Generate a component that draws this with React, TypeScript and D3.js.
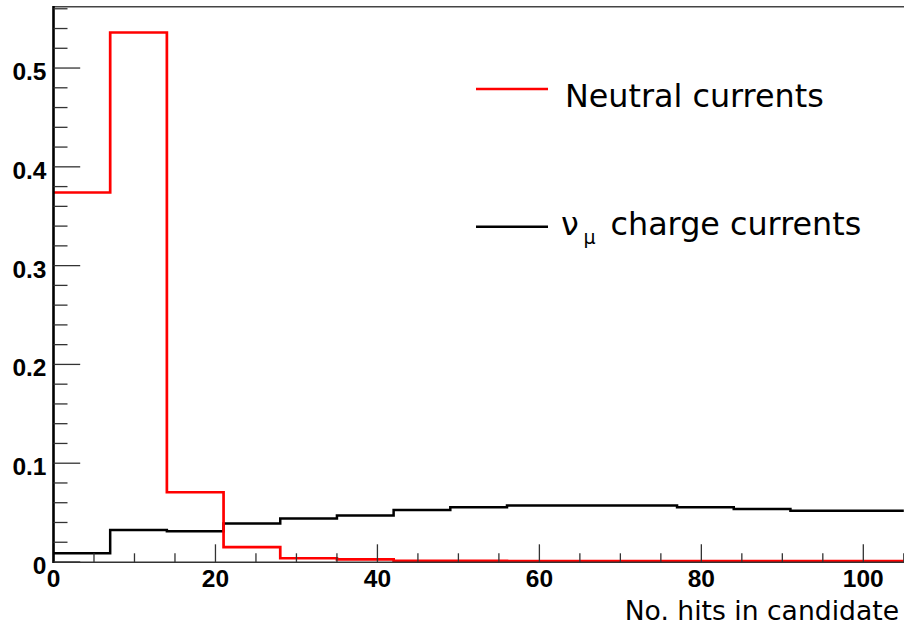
import React from "react";
import * as d3 from "d3";

const binEdges = [0, 7, 14, 21, 28, 35, 42, 49, 56, 63, 70, 77, 84, 91, 98, 105];
const neutralCurrents = [0.374, 0.536, 0.0706, 0.015, 0.0038, 0.0027, 0.0012, 0.0011, 0.001, 0.001, 0.001, 0.001, 0.001, 0.001, 0.001];
const chargeCurrents = [0.0088, 0.0325, 0.0312, 0.039, 0.044, 0.047, 0.0527, 0.0554, 0.0571, 0.0571, 0.0572, 0.0554, 0.0537, 0.052, 0.052];
const xMajorTicks = [0, 20, 40, 60, 80, 100];
const yMajorTicks = [0, 0.1, 0.2, 0.3, 0.4, 0.5];
const yTickLabels = ["0", "0.1", "0.2", "0.3", "0.4", "0.5"];
const xTickLabels = ["0", "20", "40", "60", "80", "100"];
const xTitle = "No. hits in candidate";

const W = 904;
const H = 626;

export default function App() {
  const x = d3.scaleLinear().domain([0, 105]).range([53.5, 903.8]);
  const y = d3.scaleLinear().domain([0, 0.5628]).range([562, 6]);

  const xMinor = d3.range(0, 106, 5).filter((v) => v % 20 !== 0);
  const yMinor = d3.range(0, 0.561, 0.02).filter((v) => Math.abs(v * 10 - Math.round(v * 10)) > 1e-6);

  const step = d3
    .line<[number, number]>()
    .x((d) => x(d[0]))
    .y((d) => y(d[1]))
    .curve(d3.curveStepAfter);

  const pts = (vals: number[]): [number, number][] => {
    const p: [number, number][] = vals.map((v, i) => [binEdges[i], v]);
    p.push([binEdges[vals.length], vals[vals.length - 1]]);
    return p;
  };

  const tickColor = "#333";
  const labelFont = "'Liberation Sans', Arial, Helvetica, sans-serif";
  const textFont = "'DejaVu Sans', sans-serif";

  return (
    <svg
      width={W}
      height={H}
      style={{ position: "absolute", left: 0, top: 0, background: "#fff" }}
    >
      <rect x={0} y={0} width={W} height={H} fill="#fff" />
      {/* top frame */}
      <line x1={x(0)} x2={W} y1={6.7} y2={6.7} stroke="#444" strokeWidth={1.5} />

      {/* histograms */}
      <path d={step(pts(chargeCurrents)) || ""} fill="none" stroke="#000" strokeWidth={2.5} />
      <path d={step(pts(neutralCurrents)) || ""} fill="none" stroke="#ff0000" strokeWidth={2.7} />

      {/* x axis */}
      <line x1={x(0)} x2={W} y1={562.3} y2={562.3} stroke="#333" strokeWidth={1.6} />
      {xMajorTicks.map((t) => (
        <line key={"xM" + t} x1={x(t)} x2={x(t)} y1={562.3} y2={544.3} stroke={tickColor} strokeWidth={1.3} />
      ))}
      {xMinor.map((t) => (
        <line key={"xm" + t} x1={x(t)} x2={x(t)} y1={562.3} y2={553.3} stroke={tickColor} strokeWidth={1.3} />
      ))}
      {xMajorTicks.map((t, i) => (
        <text
          key={"xl" + t}
          x={x(t)}
          y={587}
          textAnchor="middle"
          fontFamily={labelFont}
          fontWeight="bold"
          fontSize={24.5}
          fill="#000"
        >
          {xTickLabels[i]}
        </text>
      ))}
      <text x={899} y={620} textAnchor="end" fontFamily={textFont} fontSize={26.6} fill="#000">
        {xTitle}
      </text>

      {/* y axis */}
      <line x1={x(0)} x2={x(0)} y1={6} y2={563} stroke="#000" strokeWidth={2.6} />
      {yMajorTicks.map((t) => (
        <line key={"yM" + t} x1={x(0)} x2={x(0) + 26.7} y1={y(t)} y2={y(t)} stroke={tickColor} strokeWidth={1.3} />
      ))}
      {yMinor.map((t) => (
        <line key={"ym" + t} x1={x(0)} x2={x(0) + 14} y1={y(t)} y2={y(t)} stroke={tickColor} strokeWidth={1.3} />
      ))}
      {yMajorTicks.map((t, i) => (
        <text
          key={"yl" + t}
          x={46.5}
          y={y(t) + 12}
          textAnchor="end"
          fontFamily={labelFont}
          fontWeight="bold"
          fontSize={24.5}
          fill="#000"
        >
          {yTickLabels[i]}
        </text>
      ))}

      {/* legend */}
      <line x1={476} x2={548} y1={89} y2={89} stroke="#ff0000" strokeWidth={2.5} />
      <text x={565} y={107} fontFamily={textFont} fontSize={31.8} fill="#000">
        Neutral currents
      </text>
      <line x1={476} x2={548} y1={226.7} y2={226.7} stroke="#000" strokeWidth={2.5} />
      <text x={561} y={235} fontFamily={textFont} fontSize={31.8} fill="#000">
        ν
      </text>
      <text x={583.5} y={244} fontFamily={textFont} fontSize={19} fill="#000">
        μ
      </text>
      <text x={610.5} y={235} fontFamily={textFont} fontSize={31.8} fill="#000">
        charge currents
      </text>
    </svg>
  );
}
